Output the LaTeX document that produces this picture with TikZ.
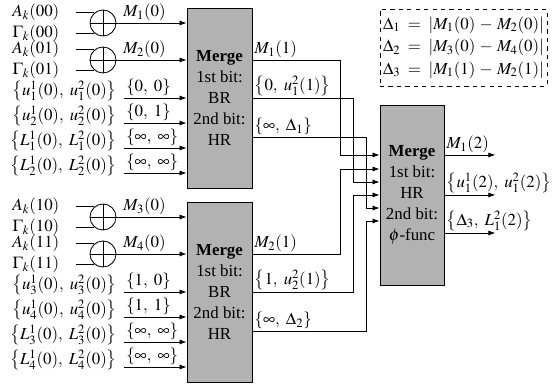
\documentclass[tikz,border=0pt]{standalone}
\usepackage{amsmath}
\usepackage{mathptmx}
\usepackage{fontspec}
\setmainfont{Liberation Serif}
\usetikzlibrary{arrows.meta, positioning}

\begin{document}
\begin{tikzpicture}[
    font=\fontsize{12}{15}\selectfont,
    box/.style={rectangle, draw, semithick, fill=gray!60, minimum width=1.625cm,
                minimum height=4.5cm, align=center, inner sep=1pt},
    adder/.style={circle, draw, semithick, minimum size=0.65cm, inner sep=0pt,
                path picture={\draw[semithick] (path picture bounding box.north) -- (path picture bounding box.south)
                                (path picture bounding box.west) -- (path picture bounding box.east);}},
    arr/.style={-{Latex[length=5pt, width=3.6pt]}, semithick},
    lbl/.style={anchor=east, yshift=0.17cm, inner ysep=0pt},
    tag/.style={inner ysep=1pt},
]
\useasboundingbox (0,0) rectangle (13.875,9.6);

% merge units
\node[box] (mg1) at (5.4875,7.15) {\textbf{Merge}\\1st bit:\\BR\\2nd bit:\\HR};
\node[box] (mg2) at (5.4875,2.3)  {\textbf{Merge}\\1st bit:\\BR\\2nd bit:\\HR};
\node[box, minimum width=1.6cm] (mg3) at (10.3,4.725)
    {\textbf{Merge}\\1st bit:\\HR\\2nd bit:\\$\phi$-func};

% adders
\node[adder] (c00) at (2.575,9.025) {};
\node[adder] (c01) at (2.575,8.1)   {};
\node[adder] (c10) at (2.575,4.175) {};
\node[adder] (c11) at (2.575,3.25)  {};
\foreach \c/\b in {c00/00, c01/01, c10/10, c11/11} {
    \draw[semithick] (\c.130) -- ++(-0.45,0) node[left=0.3cm, inner ysep=0.5pt] (tA\b) {$A_k(\b)$};
    \draw[semithick] (\c.230) -- ++(-0.45,0) node[left=0.3cm, inner ysep=0.5pt] (tG\b) {$\Gamma_k(\b)$};
}
\draw[arr] (c00) -- (c00 -| mg1.west) node[pos=0.4, above, tag] (m10) {$M_1(0)$};
\draw[arr] (c01) -- (c01 -| mg1.west) node[pos=0.4, above, tag] (m20) {$M_2(0)$};
\draw[arr] (c10) -- (c10 -| mg2.west) node[pos=0.4, above, tag] (m30) {$M_3(0)$};
\draw[arr] (c11) -- (c11 -| mg2.west) node[pos=0.4, above, tag] (m40) {$M_4(0)$};

% decision inputs
\foreach \n/\y/\lf/\tp in {
    1/7.15/{\big\{u_1^1(0),\ u_1^2(0)\big\}}/{\{0,\ 0\}},
    2/6.525/{\big\{u_2^1(0),\ u_2^2(0)\big\}}/{\{0,\ 1\}},
    3/5.9/{\big\{L_1^1(0),\ L_1^2(0)\big\}}/{\{\infty,\ \infty\}},
    4/5.275/{\big\{L_2^1(0),\ L_2^2(0)\big\}}/{\{\infty,\ \infty\}},
    5/2.3/{\big\{u_3^1(0),\ u_3^2(0)\big\}}/{\{1,\ 0\}},
    6/1.675/{\big\{u_4^1(0),\ u_4^2(0)\big\}}/{\{1,\ 1\}},
    7/1.05/{\big\{L_3^1(0),\ L_3^2(0)\big\}}/{\{\infty,\ \infty\}},
    8/0.425/{\big\{L_4^1(0),\ L_4^2(0)\big\}}/{\{\infty,\ \infty\}}} {
    \coordinate (in\n) at (3.1,\y);
    \node[lbl] (src\n) at ([xshift=-0.06cm]in\n) {$\lf$};
    \draw[arr] (in\n) -- (in\n -| mg1.west) node[pos=0, above right, xshift=-2pt, tag] (val\n) {$\tp$};
}

% into the last merge unit
\foreach \m/\dy/\dx/\ty/\txt in {
    mg1/0.95/0.975/1.0/{M_1(1)},
    mg1/0/0.65/0.325/{\big\{0,\ u_1^2(1)\big\}},
    mg1/-0.975/0.325/-0.325/{\{\infty,\ \Delta_1\}},
    mg2/0.95/0.975/0.65/{M_2(1)},
    mg2/0/0.65/0/{\big\{1,\ u_2^2(1)\big\}},
    mg2/-0.975/0.325/-0.65/{\{\infty,\ \Delta_2\}}} {
    \draw[arr] ([yshift=\dy cm]\m.east) node[above right, xshift=-2pt, tag] {$\txt$}
        -| ([xshift=-\dx cm, yshift=\ty cm]mg3.west) -- ([yshift=\ty cm]mg3.west);
}

% outputs
\coordinate (o1) at ([xshift=1.275cm, yshift=1cm]mg3.east);
\coordinate (o2) at ([xshift=1.275cm]mg3.east);
\coordinate (o3) at ([xshift=1.275cm, yshift=-0.95cm]mg3.east);
\draw[arr] (mg3.east |- o1) node[above right, xshift=-2pt, tag] (r1) {$M_1(2)$} -- (o1);
\draw[arr] (mg3.east |- o2) node[above right, xshift=-2pt, tag] (r2) {$\big\{u_1^1(2),\ u_1^2(2)\big\}$} -- (o2);
\draw[arr] (mg3.east |- o3) node[above right, xshift=-2pt, tag] (r3) {$\big\{\Delta_3,\ L_1^2(2)\big\}$} -- (o3);

% definitions
\node[draw, dashed, semithick, align=left, inner sep=2pt, minimum width=4.175cm,
      minimum height=1.925cm, font=\fontsize{12}{16}\selectfont] (defs) at (11.5875,8.4125)
    {$\Delta_1 \;=\; |M_1(0) \,-\, M_2(0)|$\\$\Delta_2 \;=\; |M_3(0) \,-\, M_4(0)|$\\$\Delta_3 \;=\; |M_1(1) \,-\, M_2(1)|$};
\end{tikzpicture}
\end{document}
